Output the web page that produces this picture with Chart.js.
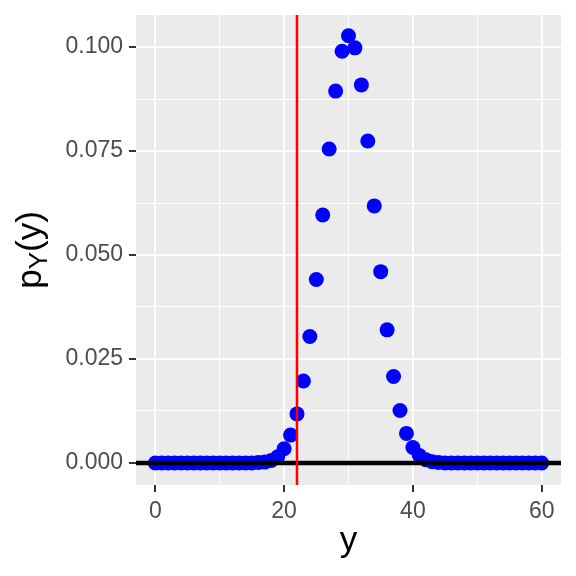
<!DOCTYPE html>
<html>
<head>
<meta charset="utf-8">
<script src="https://cdn.jsdelivr.net/npm/chart.js@4"></script>
<style>
  body { margin: 0; background: #fff; }
</style>
</head>
<body>
<canvas id="myChart" width="576" height="576"></canvas>
<script>
// y values 0..60 and their probabilities
const yValues = [0, 1, 2, 3, 4, 5, 6, 7, 8, 9, 10, 11, 12, 13, 14, 15, 16, 17, 18, 19, 20,
                 21, 22, 23, 24, 25, 26, 27, 28, 29, 30, 31, 32, 33, 34, 35, 36, 37, 38, 39, 40,
                 41, 42, 43, 44, 45, 46, 47, 48, 49, 50, 51, 52, 53, 54, 55, 56, 57, 58, 59, 60];
const probs = [0, 0, 0, 0, 0, 0, 0, 0, 0, 0, 0, 0, 0, 0, 0, 0, 0.0001, 0.0002, 0.0006, 0.0015, 0.0034,
               0.0067, 0.0118, 0.0197, 0.0304, 0.0441, 0.0596, 0.0755, 0.0894, 0.0990, 0.1027,
               0.0998, 0.0909, 0.0774, 0.0618, 0.0460, 0.0320, 0.0208, 0.0126, 0.0071, 0.0037,
               0.0018, 0.0008, 0.0003, 0.0001, 0, 0, 0, 0, 0, 0, 0, 0, 0, 0, 0, 0, 0, 0, 0, 0];
const xTicks = [0, 10, 20, 30, 40, 50, 60];
const yTicks = [0, 0.0125, 0.025, 0.0375, 0.05, 0.0625, 0.075, 0.0875, 0.1];
const cutoff = 22;

const FONT = '"Liberation Sans", Arial, sans-serif';

const panelBg = {
    id: 'panelBg',
    beforeDraw(chart) {
        const { ctx, chartArea: a } = chart;
        ctx.save();
        ctx.fillStyle = '#EBEBEB';
        ctx.fillRect(a.left, a.top, a.right - a.left, a.bottom - a.top);
        ctx.restore();
    }
};

const refLines = {
    id: 'refLines',
    afterDatasetsDraw(chart) {
        const { ctx, chartArea: a, scales } = chart;
        ctx.save();
        // horizontal line at 0
        const y0 = scales.y.getPixelForValue(0);
        ctx.strokeStyle = '#000';
        ctx.lineWidth = 4.5;
        ctx.beginPath();
        ctx.moveTo(a.left, y0);
        ctx.lineTo(a.right, y0);
        ctx.stroke();
        // vertical line at the cutoff
        const xc = scales.x.getPixelForValue(cutoff);
        ctx.strokeStyle = '#FF0000';
        ctx.lineWidth = 2.5;
        ctx.beginPath();
        ctx.moveTo(xc, a.top);
        ctx.lineTo(xc, a.bottom);
        ctx.stroke();
        ctx.restore();
    },
    afterDraw(chart) {
        const { ctx, chartArea: a } = chart;
        ctx.save();
        ctx.fillStyle = '#000';
        ctx.textBaseline = 'alphabetic';
        // x title
        ctx.font = '35px ' + FONT;
        ctx.textAlign = 'center';
        ctx.fillText('y', (a.left + a.right) / 2, 551);
        // y title p_Y(y)
        ctx.textAlign = 'left';
        const big = '35px ' + FONT, small = '26px ' + FONT;
        ctx.font = big;
        const wp = ctx.measureText('p').width;
        const wr = ctx.measureText('(y)').width;
        ctx.font = small;
        const wy = ctx.measureText('Y').width;
        const total = wp + wy + wr;
        ctx.translate(41, (a.top + a.bottom) / 2);
        ctx.rotate(-Math.PI / 2);
        let x0 = -total / 2;
        ctx.font = big;
        ctx.fillText('p', x0, 0);
        ctx.font = small;
        ctx.fillText('Y', x0 + wp, 6);
        ctx.font = big;
        ctx.fillText('(y)', x0 + wp + wy, 0);
        ctx.restore();
    }
};

const isMajorX = v => v % 20 === 0;
const isMajorY = v => Math.abs(v / 0.025 - Math.round(v / 0.025)) < 1e-6;

new Chart(document.getElementById('myChart').getContext('2d'), {
    type: 'scatter',
    data: {
        datasets: [{
            data: yValues.map((v, i) => ({ x: v, y: probs[i] })),
            backgroundColor: '#0000FF',
            borderWidth: 0,
            pointRadius: 7.5,
            pointHoverRadius: 7.5
        }]
    },
    options: {
        responsive: false,
        animation: false,
        layout: { padding: { top: 15, right: 15, left: 0, bottom: 0 } },
        plugins: { legend: { display: false }, tooltip: { enabled: false } },
        scales: {
            x: {
                type: 'linear',
                min: -3,
                max: 63,
                afterBuildTicks(scale) { scale.ticks = xTicks.map(v => ({ value: v })); },
                afterFit(scale) {
                    scale.height = 91;
                    scale.paddingLeft = 0;
                    scale.paddingRight = 0;
                },
                border: { display: false },
                grid: {
                    color: '#FFFFFF',
                    lineWidth: c => isMajorX(c.tick.value) ? 2 : 1,
                    tickColor: c => isMajorX(c.tick.value) ? '#333333' : 'rgba(0,0,0,0)',
                    tickWidth: 2,
                    tickLength: 7
                },
                ticks: {
                    autoSkip: false,
                    maxRotation: 0,
                    padding: 6,
                    color: '#4D4D4D',
                    font: { family: FONT, size: 23 },
                    callback: v => isMajorX(v) ? String(v) : ''
                }
            },
            y: {
                min: -0.0053,
                max: 0.1077,
                afterBuildTicks(scale) { scale.ticks = yTicks.map(v => ({ value: v })); },
                afterFit(scale) {
                    scale.width = 136;
                    scale.paddingTop = 0;
                    scale.paddingBottom = 0;
                },
                border: { display: false },
                grid: {
                    color: '#FFFFFF',
                    lineWidth: c => isMajorY(c.tick.value) ? 2 : 1,
                    tickColor: c => isMajorY(c.tick.value) ? '#333333' : 'rgba(0,0,0,0)',
                    tickWidth: 2,
                    tickLength: 7
                },
                ticks: {
                    autoSkip: false,
                    padding: 6,
                    color: '#4D4D4D',
                    font: { family: FONT, size: 23 },
                    callback: v => isMajorY(v) ? v.toFixed(3) : ''
                }
            }
        }
    },
    plugins: [panelBg, refLines]
});
</script>
</body>
</html>
